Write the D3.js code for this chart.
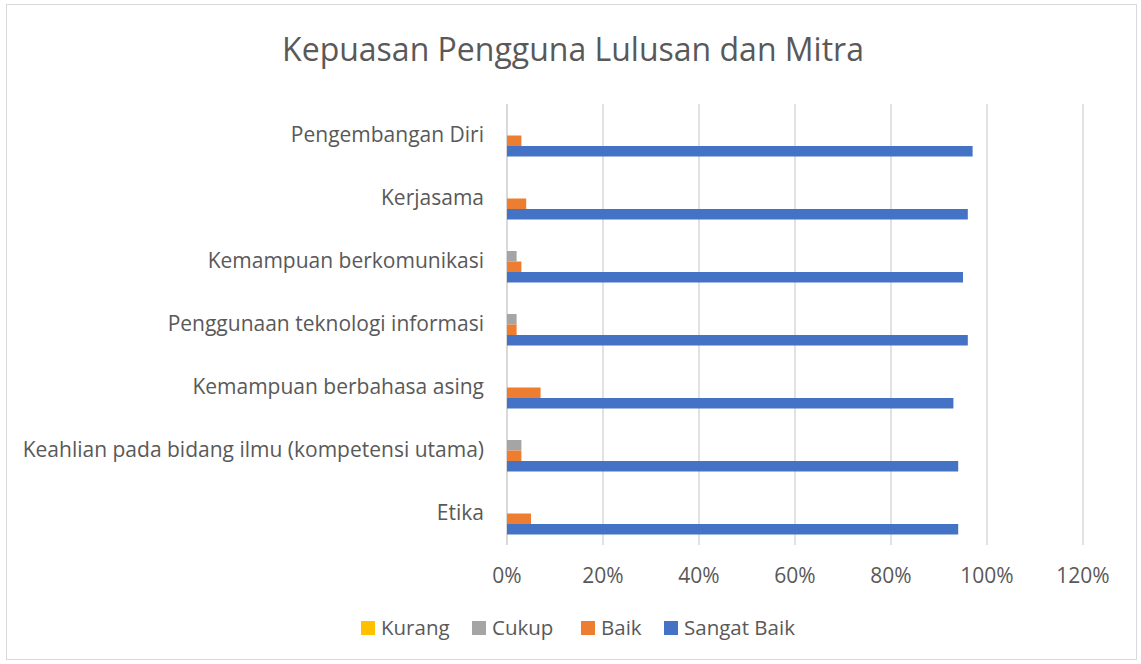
<!DOCTYPE html>
<html>
<head>
<meta charset="utf-8">
<script src="https://cdn.jsdelivr.net/npm/d3@7"></script>
<style>
  body { margin: 0; background: #fff; }
  svg { display: block; }
</style>
</head>
<body>
<div id="chart"></div>
<script>
// Data
const categories = [
    "Pengembangan Diri",
    "Kerjasama",
    "Kemampuan berkomunikasi",
    "Penggunaan teknologi informasi",
    "Kemampuan berbahasa asing",
    "Keahlian pada bidang ilmu (kompetensi utama)",
    "Etika"
];
const seriesNames = ["Kurang", "Cukup", "Baik", "Sangat Baik"];
const kurang     = [0, 0, 0, 0, 0, 0, 0];
const cukup      = [0, 0, 2, 2, 0, 3, 0];
const baik       = [3, 4, 3, 2, 7, 3, 5];
const sangatBaik = [97, 96, 95, 96, 93, 94, 94];
const xTicks = [0, 20, 40, 60, 80, 100, 120];
const colors = ["#FFC000", "#A5A5A5", "#ED7D31", "#4472C4"];

const width = 1141, height = 664;
const font = "'Open Sans', 'Noto Sans', sans-serif";
const textColor = "#595959";

let svg = d3.select("#chart").append("svg")
    .attr("width", width)
    .attr("height", height);

// Chart border
svg.append("rect")
    .attr("x", 6.5).attr("y", 4.5)
    .attr("width", 1130).attr("height", 655)
    .attr("fill", "#fff")
    .attr("stroke", "#D9D9D9")
    .attr("stroke-width", 1);

// Title
svg.append("text")
    .attr("x", 573).attr("y", 61)
    .attr("text-anchor", "middle")
    .attr("font-family", font)
    .attr("font-size", 32)
    .attr("fill", textColor)
    .text("Kepuasan Pengguna Lulusan dan Mitra");

// Scales
let x = d3.scaleLinear().domain([0, 120]).range([507, 1083]);
let y = d3.scaleBand().domain(categories).range([104, 545])
    .paddingInner(1 / 3).paddingOuter(1 / 6);
let ySub = d3.scaleBand().domain(seriesNames).range([0, y.bandwidth()]);

// Gridlines
svg.append("g")
    .selectAll("line")
    .data(xTicks)
    .enter()
    .append("line")
    .attr("x1", d => x(d)).attr("x2", d => x(d))
    .attr("y1", 104).attr("y2", 545)
    .attr("stroke", "#D9D9D9")
    .attr("stroke-width", d => d === 0 ? 2 : 1.5);

// Bars
const allSeries = [kurang, cukup, baik, sangatBaik];
let rows = [];
categories.forEach((c, i) => {
    seriesNames.forEach((s, j) => {
        rows.push({ cat: c, series: s, value: allSeries[j][i], color: colors[j] });
    });
});

svg.append("g")
    .selectAll("rect")
    .data(rows.filter(d => d.value > 0))
    .enter()
    .append("rect")
    .attr("x", x(0))
    .attr("y", d => y(d.cat) + ySub(d.series))
    .attr("width", d => x(d.value) - x(0))
    .attr("height", ySub.bandwidth())
    .attr("fill", d => d.color);

// Category labels
svg.append("g")
    .selectAll("text")
    .data(categories)
    .enter()
    .append("text")
    .attr("x", 484)
    .attr("y", d => y(d) + y.bandwidth() / 2 - 1)
    .attr("dy", "0.35em")
    .attr("text-anchor", "end")
    .attr("font-family", font)
    .attr("font-size", 21)
    .attr("fill", textColor)
    .text(d => d);

// X axis tick labels
svg.append("g")
    .selectAll("text")
    .data(xTicks)
    .enter()
    .append("text")
    .attr("x", d => x(d))
    .attr("y", 576)
    .attr("dy", "0.35em")
    .attr("text-anchor", "middle")
    .attr("font-family", font)
    .attr("font-size", 21)
    .attr("fill", textColor)
    .text(d => d + "%");

// Legend
const legendX = [361, 472, 581, 664];
let legend = svg.append("g")
    .selectAll("g")
    .data(seriesNames)
    .enter()
    .append("g")
    .attr("transform", (d, i) => "translate(" + legendX[i] + ",621)");

legend.append("rect")
    .attr("width", 14).attr("height", 14)
    .attr("fill", (d, i) => colors[i]);

legend.append("text")
    .attr("x", 20).attr("y", 7)
    .attr("dy", "0.35em")
    .attr("font-family", font)
    .attr("font-size", 20.5)
    .attr("fill", textColor)
    .text(d => d);
</script>
</body>
</html>
